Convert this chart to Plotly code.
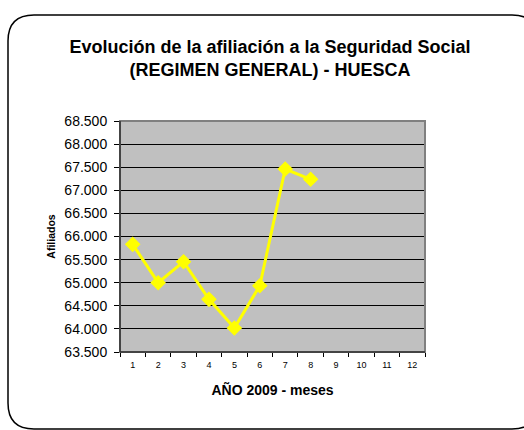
import plotly.graph_objects as go

months = ["1", "2", "3", "4", "5", "6", "7", "8", "9", "10", "11", "12"]
afiliados = [65830, 65000, 65455, 64640, 64020, 64935, 67461, 67238]
y_ticks = [63500, 64000, 64500, 65000, 65500, 66000, 66500, 67000, 67500, 68000, 68500]
y_labels = ["63.500", "64.000", "64.500", "65.000", "65.500", "66.000", "66.500", "67.000", "67.500", "68.000", "68.500"]

W, H = 524, 430
L, R, T, B = 120, 425, 121, 352

def px(x):
    return (x - L) / (R - L)

def py(y):
    return (B - y) / (B - T)

fig = go.Figure()
fig.add_trace(go.Scatter(
    x=months[:len(afiliados)], y=afiliados, mode="lines+markers",
    line=dict(color="#FFFF00", width=3),
    marker=dict(symbol="diamond", size=12, color="#FFFF00"),
    showlegend=False, cliponaxis=False, hoverinfo="skip",
))

# rounded chart border
x0, x1, y0, y1, r = 8, 538, 15, 429, 26
path = (f"M {px(x0+r)},{py(y0)} L {px(x1-r)},{py(y0)} "
        f"Q {px(x1)},{py(y0)} {px(x1)},{py(y0+r)} "
        f"L {px(x1)},{py(y1-r)} Q {px(x1)},{py(y1)} {px(x1-r)},{py(y1)} "
        f"L {px(x0+r)},{py(y1)} Q {px(x0)},{py(y1)} {px(x0)},{py(y1-r)} "
        f"L {px(x0)},{py(y0+r)} Q {px(x0)},{py(y0)} {px(x0+r)},{py(y0)} Z")
shapes = [
    dict(type="path", xref="paper", yref="paper", path=path,
         line=dict(color="black", width=1.5), layer="below"),
    dict(type="rect", xref="paper", yref="paper", x0=0, x1=1, y0=0, y1=1,
         line=dict(color="#808080", width=2), layer="above"),
    dict(type="line", xref="paper", yref="paper", x0=0, x1=0, y0=0, y1=1,
         line=dict(color="#303030", width=1.5), layer="above"),
    dict(type="line", xref="paper", yref="paper", x0=0, x1=1, y0=0, y1=0,
         line=dict(color="#303030", width=1.5), layer="above"),
]

fig.update_layout(
    width=W, height=H,
    margin=dict(l=L, r=W - R, t=T, b=H - B),
    paper_bgcolor="white", plot_bgcolor="#C0C0C0",
    font=dict(family="Liberation Sans, Arial, sans-serif", color="black"),
    title=dict(
        text="<b>Evolución de la afiliación a la Seguridad Social<br>(REGIMEN GENERAL) - HUESCA</b>",
        xref="container", yref="container",
        x=270 / W, xanchor="center", y=1 - 53 / H, yanchor="top",
        font=dict(size=18, color="black"),
    ),
    xaxis=dict(
        type="category", categoryorder="array", categoryarray=months,
        range=[-0.5, 11.5], tickmode="array", tickvals=months, ticktext=months,
        tickson="boundaries", ticks="outside", ticklen=4, tickcolor="black",
        tickfont=dict(size=9), ticklabelstandoff=6, showgrid=False, zeroline=False,
        title=dict(text="<b>AÑO 2009 - meses</b>", font=dict(size=14), standoff=16),
    ),
    yaxis=dict(
        range=[63500, 68500], tickmode="array", tickvals=y_ticks, ticktext=y_labels,
        ticks="outside", ticklen=5, tickcolor="black", tickfont=dict(size=14),
        ticklabelstandoff=4,
        showgrid=True, gridcolor="black", gridwidth=1, zeroline=False,
        title=dict(text="<b>Afiliados</b>", font=dict(size=10.5), standoff=6),
    ),
    shapes=shapes,
)

fig.write_html("out.html", config={"displayModeBar": False},
               post_script="document.body.style.margin='0';document.body.style.overflow='hidden';")
